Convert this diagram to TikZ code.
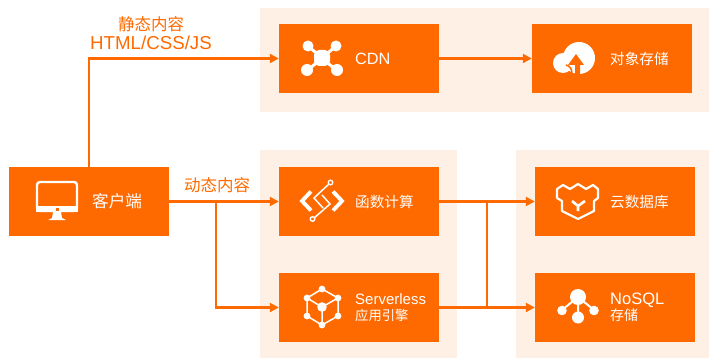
\documentclass[tikz,border=0pt]{standalone}
\usepackage{fontspec}
\setmainfont{Liberation Sans}
\newfontfamily\cjk{Noto Sans CJK SC}
\usepackage{xcolor}
\usepackage{tikz}
\usetikzlibrary{arrows.meta}
\definecolor{brandorange}{HTML}{FF6A00}
\definecolor{panelbg}{HTML}{FFF0E6}
\tikzstyle{panel}=[fill=panelbg, draw=none]
\tikzstyle{svcbox}=[fill=brandorange, draw=none, minimum width=160pt, minimum height=69pt, inner sep=0pt]
\tikzstyle{boxtext}=[text=white, anchor=west, inner sep=0pt, align=left]
\tikzstyle{link}=[draw=brandorange, line width=2.2pt]
\tikzstyle{linkto}=[link, -{Triangle[length=9pt,width=9pt]}]
\tikzstyle{toplabel}=[text=brandorange, inner sep=0pt, align=center]
\tikzset{
	cdnicon/.pic={
		\draw[white, line width=3pt] (-14,-12) -- (14,12) (14,-12) -- (-14,12);
		\fill[white] (-14,-12) circle (5.5) (14,-12) circle (5.5) (-15,12) circle (6) (15,12) circle (6);
		\fill[white, rounded corners=5pt] (-8,-8) rectangle (8,8);
	},
	cloudicon/.pic={
		\fill[white] (1,0) circle (16) (-15,5) circle (10);
		\fill[brandorange] (-2,-4) -- (6,7) -- (2,7) -- (2,16) -- (-3,16) -- (-3,7) -- (-10,7) -- cycle;
		\draw[brandorange, line width=1.5pt] (-12,7) .. controls (-8,8) and (-6,11) .. (-6,16);
	},
	monitoricon/.pic={
		\draw[white, line width=2.4pt, rounded corners=3pt] (-20,-19) rectangle (20,10);
		\fill[white] (-21,5) rectangle (21,11);
		\fill[brandorange] (-1.5,6.5) rectangle (1.5,9.5);
		\fill[white] (-4,11) -- (4,11) -- (5,17) -- (9,19) -- (-9,19) -- (-5,17) -- cycle;
	},
	funcicon/.pic={
		\draw[white, line width=3.8pt] (-11,-9.5) -- (-20,0) -- (-11,9.5) (11,-9.5) -- (20,0) -- (11,9.5);
		\draw[white, line width=1.5pt] (8,-18) -- (-8,-3) -- (1,7) (-9,18) -- (8,3) -- (0,-6);
		\filldraw[draw=white, fill=brandorange, line width=1.3pt] (8.5,-18.5) circle (2.3) (-9.5,18) circle (2.3);
	},
	cubeicon/.pic={
		\draw[white, line width=1.5pt] (0,-18) -- (16,-9) -- (16,9) -- (0,18) -- (-15,9) -- (-15,-9) -- cycle;
		\draw[white, line width=1.5pt] (-15,-9) -- (0,0) -- (16,-9) (0,0) -- (0,18);
		\fill[white] (0,0) circle (4.8);
		\foreach \p in {(0,-18),(16,-9),(16,9),(0,18),(-15,9),(-15,-9)} {
			\fill[white] \p circle (3.4);
		}
	},
	bearicon/.pic={
		\draw[white, line width=2.2pt, line join=round] (-21,-12) -- (-15,-16) -- (-8,-12) -- (0,-17) -- (8,-12) -- (15,-16) -- (20,-12) -- (20,-3) -- (16,0) -- (16,10) -- (0,18) -- (-16,10) -- (-16,0) -- (-21,-3) -- cycle;
		\draw[white, line width=2.6pt] (-6,0) -- (0,5) -- (7,0) (0,5) -- (0,10);
	},
	treeicon/.pic={
		\draw[white, line width=2pt] (0,-10) -- (-16,3) (0,-10) -- (16,3) (0,-10) -- (0,10);
		\fill[white] (0,-10) circle (8) (-16,3.5) circle (4.8) (16,3.5) circle (4.8) (0,10.5) circle (6);
	}
}
\begin{document}
\begin{tikzpicture}[x=1pt,y=-1pt]
\useasboundingbox (0,0) rectangle (709,358);
\fill[panel] (260,8) rectangle (709,112);
\fill[panel] (260,150) rectangle (457,358);
\fill[panel] (516,150) rectangle (709,358);
\foreach \n/\x/\y in {client/89/201.5, cdn/359/58.5, oss/612/58.5, func/359/201.5, sls/359/307.5, rds/615/201.5, nosql/615/307.5} {
	\node[svcbox] (\n) at (\x,\y) {};
}
\coordinate (split) at (216,201.5);
\coordinate (merge) at (487,201.5);
\draw[linkto] (client.north) |- (cdn.west);
\draw[linkto] (cdn.east) -- (oss.west);
\draw[linkto] (client.east) -- (func.west);
\draw[linkto] (split) |- (sls.west);
\draw[linkto] (func.east) -- (rds.west);
\draw[linkto] (sls.east) -- (nosql.west);
\draw[link] (merge) |- (sls.east);
\node[toplabel, font=\fontsize{16.5}{20}\selectfont] (statictext) at (151,24) {\cjk 静态内容};
\node[toplabel, font=\fontsize{18.7}{20}\selectfont] (htmltext) at (151,43) {HTML/CSS/JS};
\node[toplabel, font=\fontsize{16.5}{20}\selectfont] (dynamictext) at (217,185) {\cjk 动态内容};
\pic at (57,201) {monitoricon};
\pic at (322,58) {cdnicon};
\pic at (578,58) {cloudicon};
\pic at (322,201) {funcicon};
\pic at (322,307) {cubeicon};
\pic at (578,201) {bearicon};
\pic at (578,307) {treeicon};
\node[boxtext, font=\fontsize{16.6}{20}\selectfont] (clienttext) at (92,201.5) {\cjk 客户端};
\node[boxtext, font=\fontsize{16.3}{20}\selectfont] (cdntext) at (355,58.5) {CDN};
\node[boxtext, font=\fontsize{14.6}{20}\selectfont] (osstext) at (610,58.5) {\cjk 对象存储};
\node[boxtext, font=\fontsize{14.6}{20}\selectfont] (functext) at (355,201.5) {\cjk 函数计算};
\node[boxtext, font=\fontsize{15}{17}\selectfont] (slstext) at (355,307.5) {Serverless\\[-1pt]\fontsize{13.3}{17}\selectfont\cjk 应用引擎};
\node[boxtext, font=\fontsize{16.5}{17}\selectfont] (nosqltext) at (610,307.5) {NoSQL\\[-1pt]\fontsize{14}{17}\selectfont\cjk 存储};
\node[boxtext, font=\fontsize{14.6}{20}\selectfont] (rdstext) at (610,201.5) {\cjk 云数据库};
\end{tikzpicture}
\end{document}
